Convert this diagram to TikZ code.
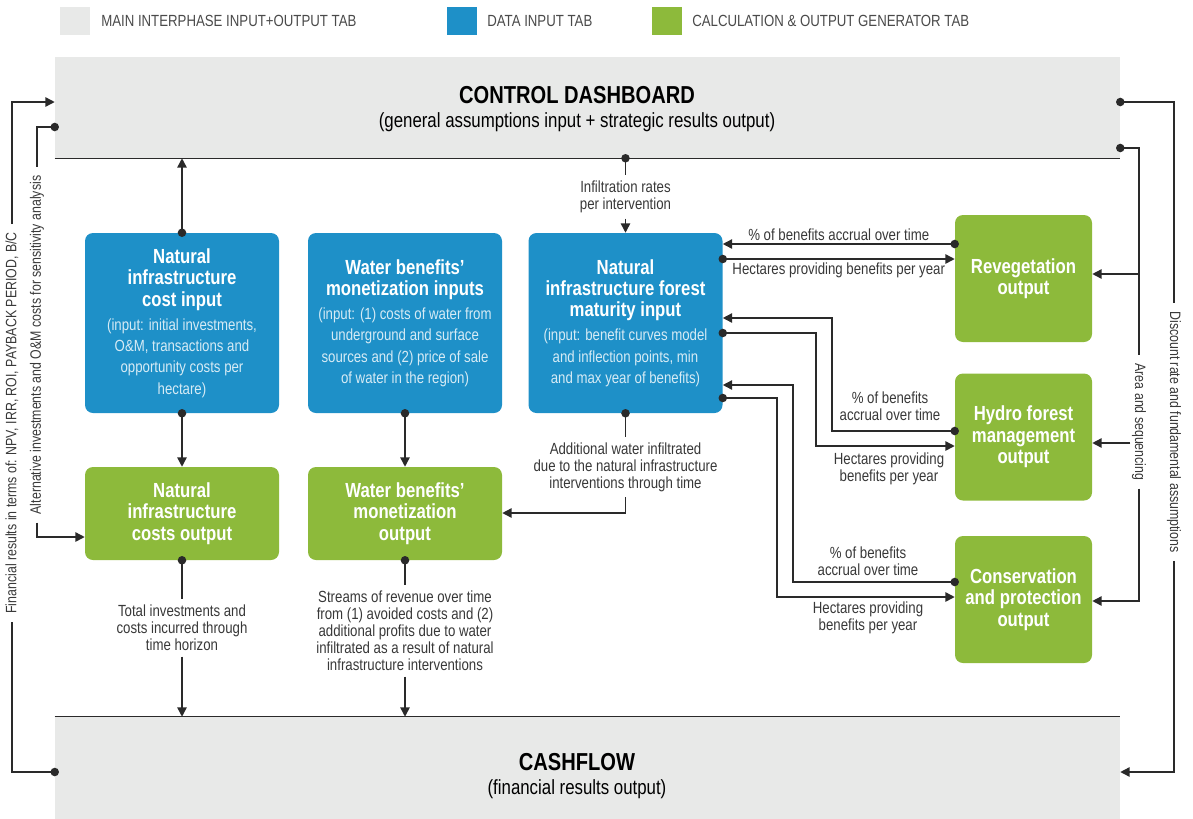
\documentclass[tikz,border=0pt]{standalone}
\usepackage{fontspec}
\setmainfont{Liberation Sans}[FakeStretch=0.82]
\usetikzlibrary{arrows.meta}
\definecolor{bluec}{HTML}{1E90C8}
\definecolor{greenc}{HTML}{8DBA3B}
\definecolor{grayc}{HTML}{E8E9E8}
\definecolor{linec}{HTML}{2A2A2A}
\definecolor{labc}{HTML}{383838}
\definecolor{legc}{HTML}{4A4A4A}
\colorlet{bodyc}{white!82!bluec}
\newcommand\fTitle{\fontsize{18.4pt}{18pt}\selectfont\bfseries}
\newcommand\fSub{\fontsize{15.4pt}{18pt}\selectfont}
\newcommand\fBT{\fontsize{15.3pt}{16pt}\selectfont\bfseries}
\newcommand\fBB{\fontsize{12.1pt}{16pt}\selectfont}
\newcommand\fLab{\fontsize{12.1pt}{12.75pt}\selectfont}
\newcommand\fSide{\fontsize{11.3pt}{12pt}\selectfont}
\newcommand\fLeg{\fontsize{12.1pt}{13pt}\selectfont}
\newcommand\bxT[1]{{\fBT #1}}
\newcommand\bxB[1]{{\fBB\color{bodyc}#1}}
\newcommand\pT[1]{{\fTitle #1}}
\newcommand\pS[1]{{\fSub #1}}
\begin{document}
\begin{tikzpicture}[x=0.75pt,y=-0.75pt,
  conn/.style={draw=linec, line width=1.1pt},
  arr/.style={conn, -{Triangle[length=7pt,width=7pt]}},
  dot/.style={fill=linec},
  panel/.style={fill=grayc, inner sep=0pt, minimum width=798.75pt},
  bbox/.style={fill=bluec, rounded corners=6pt, inner sep=0pt, minimum width=145.5pt, minimum height=135pt, align=center, text=white, font=\fBB},
  gbox/.style={fill=greenc, rounded corners=6pt, inner sep=0pt, minimum width=145.5pt, minimum height=69.75pt, align=center, text=white, font=\fBT},
  gsbox/.style={gbox, minimum width=102.75pt, minimum height=95.25pt},
  lab/.style={align=center, text=labc, font=\fLab, inner sep=4pt},
  side/.style={text=labc, font=\fSide, inner xsep=6pt, inner ysep=1pt},
  legsq/.style={minimum width=22.5pt, minimum height=21pt, inner sep=0pt},
  legtx/.style={anchor=west, inner sep=0pt, text=legc, font=\fLeg}
]
\useasboundingbox (0,0) rectangle (1193,818);

% legend
\node[legsq, fill=grayc] (lg1) at (75,21) {};
\node[legtx] (lt1) at (101,21) {MAIN INTERPHASE INPUT+OUTPUT TAB};
\node[legsq, fill=bluec] (lg2) at (462,21) {};
\node[legtx] (lt2) at (487,21) {DATA INPUT TAB};
\node[legsq, fill=greenc] (lg3) at (667,21) {};
\node[legtx] (lt3) at (692,21) {CALCULATION \& OUTPUT GENERATOR TAB};

% panels
\node[panel, minimum height=75.75pt] (dash) at (587.5,107.5) {};
\draw[conn, line width=1pt] (dash.south west) -- (dash.south east);
\node[align=center, text=black, font=\fSub] (dashT) at (577,109) {\pT{CONTROL DASHBOARD}\\\pS{(general assumptions input + strategic results output)}};
\node[panel, minimum height=77.25pt] (cash) at (587.5,768.5) {};
\draw[conn, line width=1pt] (cash.north west) -- (cash.north east);
\node[align=center, text=black, font=\fSub] (cashT) at (577,776) {\pT{CASHFLOW}\\\pS{(financial results output)}};

% blue boxes
\node[bbox] (b1) at (182,323) {\bxT{Natural}\\\bxT{infrastructure}\\\bxT{cost input}\\[2pt]\bxB{(input: initial investments,}\\\bxB{O\&M, transactions and}\\\bxB{opportunity costs per}\\\bxB{hectare)}};
\node[bbox] (b2) at (405,323) {\bxT{Water benefits'}\\\bxT{monetization inputs}\\[2pt]\bxB{(input: (1) costs of water from}\\\bxB{underground and surface}\\\bxB{sources and (2) price of sale}\\\bxB{of water in the region)}};
\node[bbox] (b3) at (625.5,323) {\bxT{Natural}\\\bxT{infrastructure forest}\\\bxT{maturity input}\\[2pt]\bxB{(input: benefit curves model}\\\bxB{and inflection points, min}\\\bxB{and max year of benefits)}};

% green boxes
\node[gbox] (g1) at (182,513.5) {Natural\\infrastructure\\costs output};
\node[gbox] (g2) at (405,513.5) {Water benefits'\\monetization\\output};
\node[gsbox] (g3) at (1023.5,278.5) {Revegetation\\output};
\node[gsbox] (g4) at (1023.5,437) {Hydro forest\\management\\output};
\node[gsbox] (g5) at (1023.5,599.5) {Conservation\\and protection\\output};

% vertical connectors
\draw[arr] (b1.north) -- (b1.north |- dash.south);
\fill[dot] (b1.north) circle (3.2pt);
\draw[arr] (b1.south) -- (g1.north);
\fill[dot] (b1.south) circle (3.2pt);
\draw[arr] (b2.south) -- (g2.north);
\fill[dot] (b2.south) circle (3.2pt);

\node[lab] (inf) at (625.5,197) {Infiltration rates\\per intervention};
\draw[conn] (b3.north |- dash.south) -- (inf.north);
\draw[arr] (inf.south) -- (b3.north);
\fill[dot] (b3.north |- dash.south) circle (3.2pt);

\node[lab] (addw) at (625.5,467) {Additional water infiltrated\\due to the natural infrastructure\\interventions through time};
\draw[conn] (b3.south) -- (addw.north);
\draw[arr] (addw.south) |- (g2.east |- 0,513);
\fill[dot] (b3.south) circle (3.2pt);

\node[lab] (tot) at (182,628) {Total investments and\\costs incurred through\\time horizon};
\draw[conn] (g1.south) -- (tot.north);
\draw[arr] (tot.south) -- (tot.south |- cash.north);
\fill[dot] (g1.south) circle (3.2pt);

\node[lab] (str) at (405,631) {Streams of revenue over time\\from (1) avoided costs and (2)\\additional profits due to water\\infiltrated as a result of natural\\infrastructure interventions};
\draw[conn] (g2.south) -- (str.north);
\draw[arr] (str.south) -- (str.south |- cash.north);
\fill[dot] (g2.south) circle (3.2pt);

% forest maturity <-> outputs
\draw[arr] (g3.west |- 0,244) -- node[lab, above, inner sep=2pt] (lr1) {\% of benefits accrual over time} (b3.east |- 0,244);
\fill[dot] (g3.west |- 0,244) circle (3.2pt);
\draw[arr] (b3.east |- 0,259) -- node[lab, below, inner sep=2pt] (lr2) {Hectares providing benefits per year} (g3.west |- 0,259);
\fill[dot] (b3.east |- 0,259) circle (3.2pt);

\draw[arr] (g4.west |- 0,431) -| (832,318) -- (b3.east |- 0,318);
\fill[dot] (g4.west |- 0,431) circle (3.2pt);
\draw[arr] (b3.east |- 0,333) -| (816,446) -- (g4.west |- 0,446);
\fill[dot] (b3.east |- 0,333) circle (3.2pt);
\node[lab] (lh1) at (890,406) {\% of benefits\\accrual over time};
\node[lab] (lh2) at (889,469) {Hectares providing\\benefits per year};

\draw[arr] (g5.west |- 0,582) -| (793,385) -- (b3.east |- 0,385);
\fill[dot] (g5.west |- 0,582) circle (3.2pt);
\draw[arr] (b3.east |- 0,398) -| (777,597) -- (g5.west |- 0,597);
\fill[dot] (b3.east |- 0,398) circle (3.2pt);
\node[lab] (lc1) at (868,561) {\% of benefits\\accrual over time};
\node[lab] (lc2) at (868,618) {Hectares providing\\benefits per year};

% left side
\node[side, rotate=90] (fin) at (12,423) {Financial results in terms of: NPV, IRR, ROI, PAYBACK PERIOD, B/C};
\draw[conn] (cash.west |- 0,772) -| (fin.west);
\draw[arr] (fin.east) |- (dash.west |- 0,102);
\fill[dot] (cash.west |- 0,772) circle (3.2pt);
\node[side, rotate=90] (alt) at (37,345) {Alternative investments and O\&M costs for sensitivity analysis};
\draw[conn] (dash.west |- 0,127) -| (alt.east);
\draw[arr] (alt.west) |- (g1.west |- 0,537);
\fill[dot] (dash.west |- 0,127) circle (3.2pt);

% right side
\node[side, rotate=-90] (disc) at (1174,432) {Discount rate and fundamental assumptions};
\draw[conn] (dash.east |- 0,102) -| (disc.west);
\draw[arr] (disc.east) |- (cash.east |- 0,772);
\fill[dot] (dash.east |- 0,102) circle (3.2pt);
\node[side, rotate=-90] (area) at (1139,422) {Area and sequencing};
\draw[conn] (dash.east |- 0,148) -| (area.west);
\draw[arr] (area.west |- 0,274) -- (g3.east |- 0,274);
\draw[arr] (area.south |- 0,443) -- (g4.east |- 0,443);
\draw[arr] (area.east) |- (g5.east |- 0,601);
\fill[dot] (dash.east |- 0,148) circle (3.2pt);
\end{tikzpicture}
\end{document}
